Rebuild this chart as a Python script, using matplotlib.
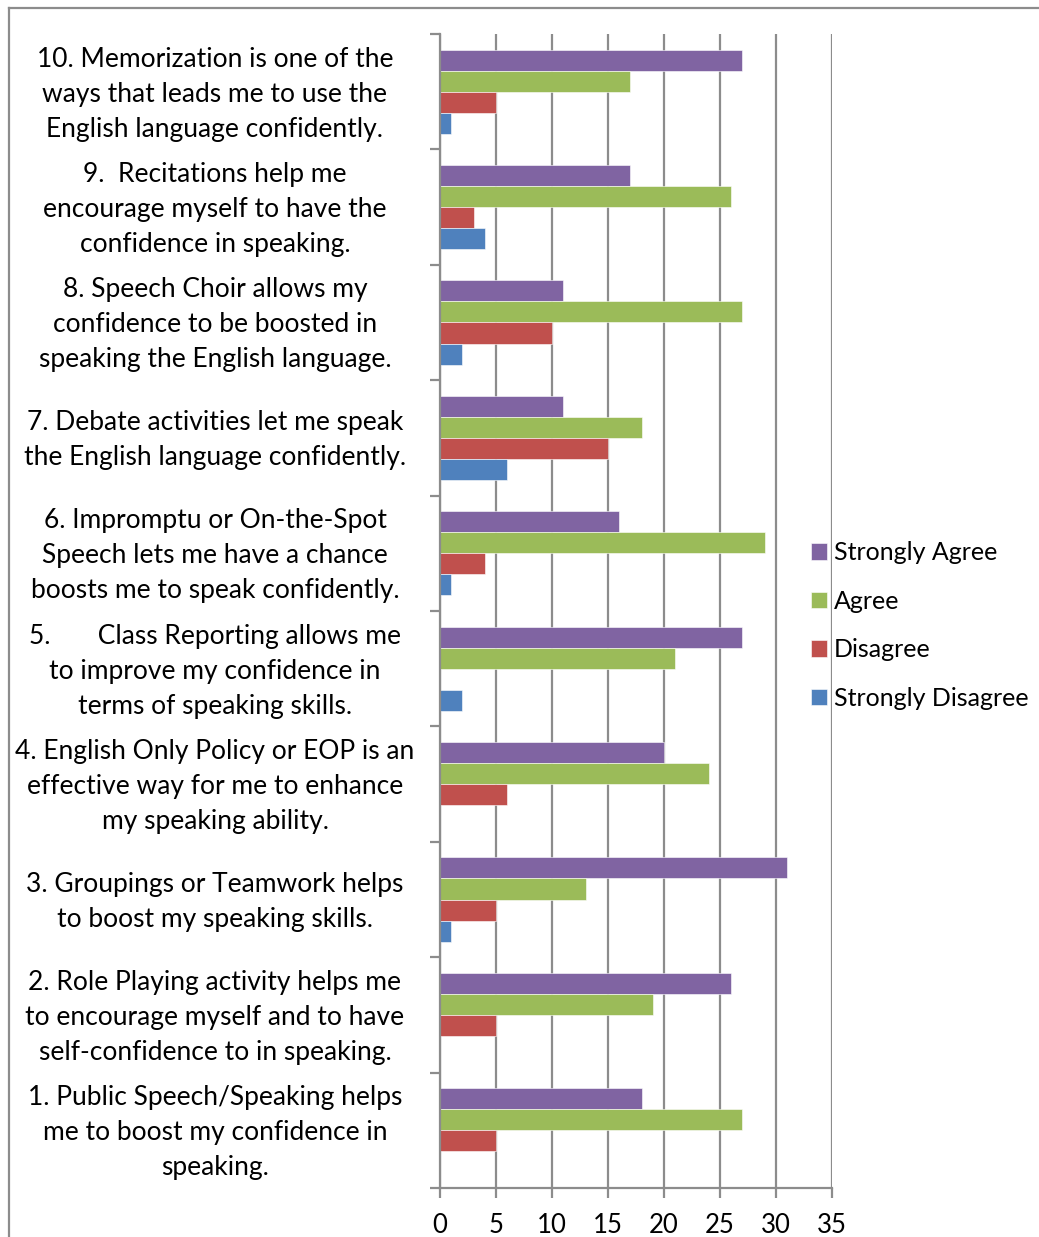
import numpy as np
import matplotlib
matplotlib.use("Agg")
import matplotlib.pyplot as plt
from matplotlib.lines import Line2D
from matplotlib.transforms import ScaledTranslation

plt.rcParams['font.family'] = ['Lato', 'DejaVu Sans']

# statements, bottom (1) to top (10)
statements = [
    "1. Public Speech/Speaking helps\nme to boost my confidence in\nspeaking.",
    "2. Role Playing activity helps me\nto encourage myself and to have\nself-confidence to in speaking.",
    "3. Groupings or Teamwork helps\nto boost my speaking skills.",
    "4. English Only Policy or EOP is an\neffective way for me to enhance\nmy speaking ability.",
    "5.       Class Reporting allows me\nto improve my confidence in\nterms of speaking skills.",
    "6. Impromptu or On-the-Spot\nSpeech lets me have a chance\nboosts me to speak confidently.",
    "7. Debate activities let me speak\nthe English language confidently.",
    "8. Speech Choir allows my\nconfidence to be boosted in\nspeaking the English language.",
    "9.  Recitations help me\nencourage myself to have the\nconfidence in speaking.",
    "10. Memorization is one of the\nways that leads me to use the\nEnglish language confidently.",
]
strongly_agree    = [18, 26, 31, 20, 27, 16, 11, 11, 17, 27]
agree             = [27, 19, 13, 24, 21, 29, 18, 27, 26, 17]
disagree          = [5, 5, 5, 6, 0, 4, 15, 10, 3, 5]
strongly_disagree = [0, 0, 1, 0, 2, 1, 6, 2, 4, 1]

series = [("Strongly Agree", strongly_agree, "#8064A2"),
          ("Agree", agree, "#9BBB59"),
          ("Disagree", disagree, "#C0504D"),
          ("Strongly Disagree", strongly_disagree, "#4F81BD")]

W, H = 1039, 1237
fig = plt.figure(figsize=(W / 100, H / 100), dpi=100)
ax = fig.add_axes([440 / W, 1 - 1188 / H, (832 - 440) / W, (1188 - 34) / H])

y = np.arange(len(statements))
bh = 0.182
offsets = [1.5, 0.5, -0.5, -1.5]
for (name, vals, col), off in zip(series, offsets):
    ax.barh(y + off * bh, vals, height=bh, color=col, label=name,
            edgecolor="white", linewidth=0.4)

grid_col = "#8c8c8c"
ax.set_xlim(0, 35)
ax.set_ylim(-0.5, len(statements) - 0.5)
ax.set_xticks(np.arange(0, 36, 5))
ax.grid(axis="x", color=grid_col, linewidth=1.6)
ax.set_axisbelow(True)

# category boundaries as major ticks, labels on minor ticks
ax.set_yticks(np.arange(-0.5, len(statements), 1))
ax.set_yticklabels([])
ax.set_yticks(y, minor=True)
ax.set_yticklabels(statements, minor=True, ha="center", multialignment="center",
                   fontsize=19, linespacing=1.5)
ax.tick_params(axis="y", which="major", length=7, color=grid_col, width=1.6)
ax.tick_params(axis="y", which="minor", length=0, pad=162)
ax.tick_params(axis="x", length=7, color=grid_col, width=1.6, labelsize=18.5, pad=11)

# nudge the statement labels up a little
shift = ScaledTranslation(0, 5 / 100, fig.dpi_scale_trans)
for lab in ax.get_yticklabels(minor=True):
    lab.set_transform(lab.get_transform() + shift)

for s in ["top", "right"]:
    ax.spines[s].set_visible(False)
for s in ["left", "bottom"]:
    ax.spines[s].set_color(grid_col)
    ax.spines[s].set_linewidth(1.6)

fig.legend(loc="center left", bbox_to_anchor=(811 / W, 1 - 625.5 / H),
           frameon=False, fontsize=18, handlelength=0.65, handleheight=0.65,
           handletextpad=0.25, labelspacing=1.02, borderpad=0, borderaxespad=0)

# outer frame
fig.add_artist(Line2D([9 / W, 1], [1 - 8 / H, 1 - 8 / H], color=grid_col, lw=1.6,
                      transform=fig.transFigure))
fig.add_artist(Line2D([9 / W, 9 / W], [0, 1 - 8 / H], color=grid_col, lw=1.6,
                      transform=fig.transFigure))

fig.savefig("out.png", dpi=100)
